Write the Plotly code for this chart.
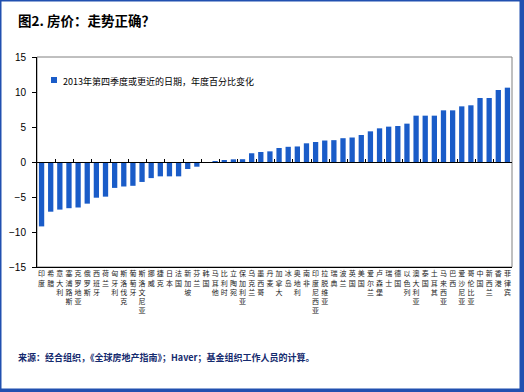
import plotly.graph_objects as go

countries = ["印度", "希腊", "意大利", "塞浦路斯", "克罗地亚", "俄罗斯", "西班牙", "荷兰",
             "匈牙利", "斯洛伐克", "葡萄牙", "斯洛文尼亚", "挪威", "捷克", "日本", "法国",
             "新加坡", "芬兰", "韩国", "马耳他", "比利时", "立陶宛", "保加利亚", "乌克兰",
             "墨西哥", "丹麦", "加拿大", "冰岛", "奥地利", "南非", "印度尼西亚", "拉脱维亚",
             "瑞典", "波兰", "英国", "美国", "爱尔兰", "卢森堡", "瑞士", "德国",
             "以色列", "澳大利亚", "泰国", "土耳其", "马来西亚", "巴西", "爱沙尼亚", "哥伦比亚",
             "中国", "新西兰", "香港", "菲律宾"]
values = [-9.2, -7.1, -6.8, -6.6, -6.5, -5.95, -5.1, -4.95,
          -3.7, -3.5, -3.4, -2.85, -2.3, -2.05, -2.05, -2.05,
          -1.0, -0.67, -0.1, 0.1, 0.25, 0.38, 0.4, 1.25,
          1.43, 1.52, 2.0, 2.17, 2.22, 2.67, 2.86, 3.07,
          3.12, 3.4, 3.5, 3.86, 4.38, 4.81, 5.05, 5.14,
          5.48, 6.62, 6.62, 6.62, 7.38, 7.38, 7.95, 8.1,
          9.14, 9.14, 10.29, 10.62]
y_ticks = [-15, -10, -5, 0, 5, 10, 15]
legend_text = "2013年第四季度或更近的日期，年度百分比变化"
title_text = "图2. 房价：走势正确？"
source_text = "来源：经合组织，《全球房地产指南》；Haver；基金组织工作人员的计算。"

W, H = 524, 392
L, R, T, B = 37, 512, 57, 267


def px_x(p):
    return (p - L) / (R - L)


def px_y(p):
    return (B - p) / (B - T)


BAR = "#1a5cc8"
FRAME = "#2150b0"
CJK = "Noto Sans CJK SC"

fig = go.Figure()
fig.add_trace(go.Bar(
    x=countries, y=values, marker=dict(color=BAR, line=dict(width=0)),
    showlegend=False, hoverinfo="x+y"))
# helper trace for the zero-line axis with tick marks
fig.add_trace(go.Scatter(x=countries, y=[0] * len(countries), xaxis="x2",
                         mode="none", showlegend=False, hoverinfo="skip"))

fig.update_layout(
    width=W, height=H,
    margin=dict(l=L, r=W - R, t=T, b=H - B),
    paper_bgcolor="white", plot_bgcolor="white",
    bargap=0.42,
    xaxis=dict(type="category", categoryorder="array", categoryarray=countries,
               range=[-0.5, len(countries) - 0.5],
               tickvals=countries,
               ticktext=["<br>".join(list(c)) for c in countries],
               tickangle=0,
               tickfont=dict(family=CJK, size=7, color="#222"),
               showline=True, linecolor="black", linewidth=1,
               ticks="", showgrid=False, zeroline=False, automargin=False),
    xaxis2=dict(type="category", categoryorder="array", categoryarray=countries,
                range=[-0.5, len(countries) - 0.5],
                overlaying="x", anchor="free", position=0.5,
                side="bottom", showticklabels=False, ticks="inside", tickson="boundaries",
                ticklen=3, tickcolor="black", tickwidth=1,
                showline=True, linecolor="black", linewidth=1,
                showgrid=False, zeroline=False),
    yaxis=dict(range=[-15, 15], tickvals=y_ticks, ticks="outside", ticklen=4,
               tickcolor="black", showline=True, linecolor="black", linewidth=1,
               showgrid=False, zeroline=False, automargin=False,
               tickfont=dict(family="Liberation Sans", size=10, color="black"),
               ticklabelstandoff=4),
    shapes=[
        dict(type="rect", xref="paper", yref="paper", x0=0, x1=1, y0=0, y1=1,
             line=dict(color="#808080", width=1), layer="below"),
        # legend swatch
        dict(type="rect", xref="paper", yref="paper",
             x0=px_x(51), x1=px_x(57), y0=px_y(83), y1=px_y(77),
             fillcolor=BAR, line=dict(width=0)),
        # blue frame
        dict(type="rect", xref="paper", yref="paper",
             x0=px_x(0), x1=px_x(1.5), y0=px_y(392), y1=px_y(0),
             fillcolor=FRAME, line=dict(width=0)),
        dict(type="rect", xref="paper", yref="paper",
             x0=px_x(0), x1=px_x(524), y0=px_y(1.5), y1=px_y(0),
             fillcolor=FRAME, line=dict(width=0)),
        dict(type="rect", xref="paper", yref="paper",
             x0=px_x(519.5), x1=px_x(524), y0=px_y(392), y1=px_y(0),
             fillcolor=FRAME, line=dict(width=0)),
        dict(type="rect", xref="paper", yref="paper",
             x0=px_x(0), x1=px_x(524), y0=px_y(392), y1=px_y(388.5),
             fillcolor=FRAME, line=dict(width=0)),
    ],
    annotations=[
        dict(text=title_text, xref="paper", yref="paper", x=px_x(16), y=px_y(20),
             xanchor="left", yanchor="middle", showarrow=False,
             font=dict(family=CJK, size=13.5, color="black", weight="bold")),
        dict(text=legend_text, xref="paper", yref="paper", x=px_x(61), y=px_y(81),
             xanchor="left", yanchor="middle", showarrow=False,
             font=dict(family=CJK, size=9, color="black")),
        dict(text=source_text, xref="paper", yref="paper", x=px_x(16), y=px_y(357),
             xanchor="left", yanchor="middle", showarrow=False,
             font=dict(family=CJK, size=9, color="#142a6e", weight="bold")),
    ],
)

fig.write_html("out.html", config={"displayModeBar": False},
               post_script="document.body.style.margin='0';document.body.style.overflow='hidden';")
